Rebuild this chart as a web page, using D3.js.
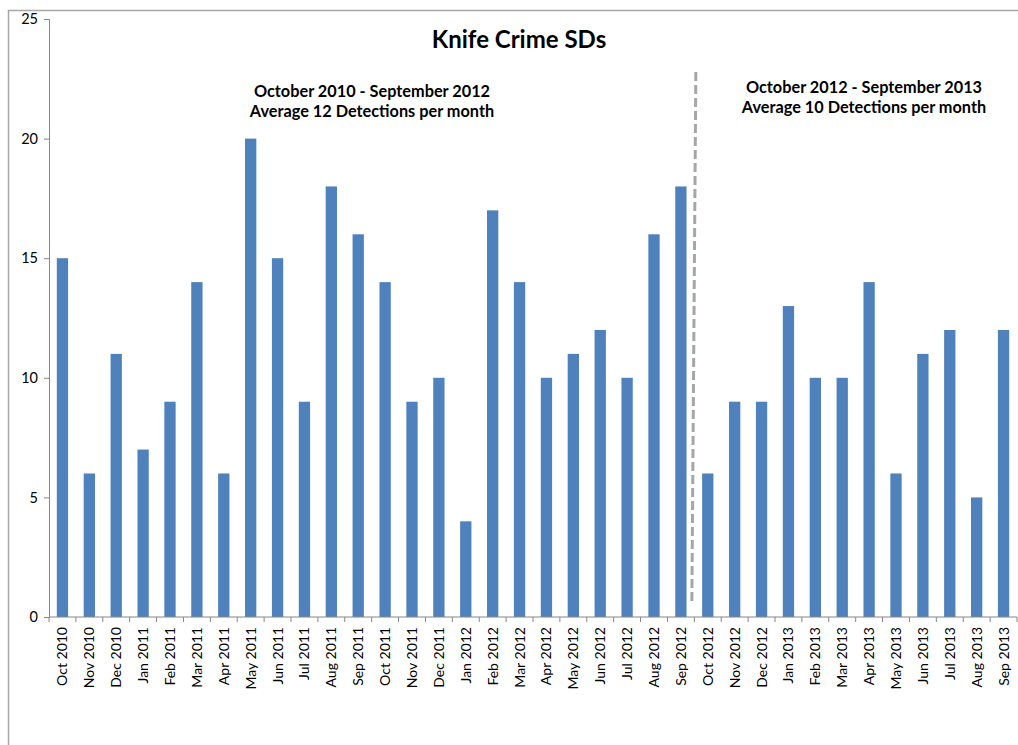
<!DOCTYPE html>
<html>
<head>
<meta charset="utf-8">
<script src="https://cdn.jsdelivr.net/npm/d3@7"></script>
<style>
	body { margin: 0; background: #fff; }
	text { font-family: Lato, "Open Sans", sans-serif; fill: #000; }
</style>
</head>
<body>
<div id="chart"></div>
<script>
const months = ["Oct 2010", "Nov 2010", "Dec 2010", "Jan 2011", "Feb 2011", "Mar 2011", "Apr 2011", "May 2011",
	"Jun 2011", "Jul 2011", "Aug 2011", "Sep 2011", "Oct 2011", "Nov 2011", "Dec 2011", "Jan 2012",
	"Feb 2012", "Mar 2012", "Apr 2012", "May 2012", "Jun 2012", "Jul 2012", "Aug 2012", "Sep 2012",
	"Oct 2012", "Nov 2012", "Dec 2012", "Jan 2013", "Feb 2013", "Mar 2013", "Apr 2013", "May 2013",
	"Jun 2013", "Jul 2013", "Aug 2013", "Sep 2013"]
const detections = [15, 6, 11, 7, 9, 14, 6, 20, 15, 9, 18, 16, 14, 9, 10, 4,
	17, 14, 10, 11, 12, 10, 16, 18, 6, 9, 9, 13, 10, 10, 14, 6, 11, 12, 5, 12]
const yTicks = [0, 5, 10, 15, 20, 25]
const splitMonth = "Oct 2012"
const periodNotes = [
	["October 2010 - September 2012", "Average 12 Detections per month"],
	["October 2012 - September 2013", "Average 10 Detections per month"]
]

drawchart()

function drawchart() {
	const W = 1018, H = 745
	const left = 49, right = 1017, top = 19, bottom = 617

	const svg = d3.select("#chart")
		.append("svg")
		.attr("width", W)
		.attr("height", H)

	// outer frame (only top and left visible in the picture)
	svg.append("path")
		.attr("d", `M8.5,${H} V10.5 H${W}`)
		.attr("fill", "none")
		.attr("stroke", "#a6a6a6")
		.attr("stroke-width", 1.5)

	const x = d3.scaleBand()
		.domain(months)
		.range([left, right])
		.paddingInner(0.58)
		.paddingOuter(0.29)

	const y = d3.scaleLinear()
		.domain([0, 25])
		.range([bottom, top])

	const data = months.map((m, i) => ({ month: m, value: detections[i] }))

	svg.append("g")
		.selectAll("rect")
		.data(data)
		.join("rect")
		.attr("x", d => x(d.month))
		.attr("y", d => y(d.value))
		.attr("width", x.bandwidth())
		.attr("height", d => y(0) - y(d.value))
		.attr("fill", "#4f81bd")

	// y axis
	const yAxis = svg.append("g")
		.attr("class", "y-axis")
		.attr("transform", `translate(${left},0)`)
		.call(d3.axisLeft(y).tickValues(yTicks).tickSize(5).tickPadding(6))
	yAxis.selectAll("text").style("font-size", "14.5px").attr("fill", "#000")

	// x axis with ticks between categories
	const step = x.step()
	const xAxis = svg.append("g")
		.attr("class", "x-axis")
		.attr("transform", `translate(0,${bottom})`)
	xAxis.append("line")
		.attr("x1", left).attr("x2", right)
		.attr("stroke", "#868686")
	xAxis.selectAll(".tk")
		.data(d3.range(months.length + 1))
		.join("line")
		.attr("class", "tk")
		.attr("x1", i => left + i * step)
		.attr("x2", i => left + i * step)
		.attr("y1", 0).attr("y2", 5)
		.attr("stroke", "#868686")
	xAxis.selectAll(".lbl")
		.data(months)
		.join("text")
		.attr("class", "lbl")
		.attr("transform", d => `translate(${x(d) + x.bandwidth() / 2 + 5},10) rotate(-90)`)
		.attr("text-anchor", "end")
		.style("font-size", "14px")
		.text(d => d)

	yAxis.select(".domain").attr("stroke", "#868686")
	yAxis.selectAll(".tick line").attr("stroke", "#868686")

	// title
	svg.append("text")
		.attr("x", 519)
		.attr("y", 48)
		.attr("text-anchor", "middle")
		.style("font-size", "24px")
		.style("font-weight", "bold")
		.text("Knife Crime SDs")

	// divider between the two periods
	const sx = x(splitMonth) - (step - x.bandwidth()) / 2
	svg.append("line")
		.attr("x1", sx + 1.5).attr("y1", 72)
		.attr("x2", sx - 2.5).attr("y2", 605)
		.attr("stroke", "#a6a6a6")
		.attr("stroke-width", 3)
		.attr("stroke-dasharray", "9,4")

	// period notes
	const notePos = [[372, 97], [864, 93]]
	periodNotes.forEach((lines, k) => {
		const t = svg.append("text")
			.attr("text-anchor", "middle")
			.style("font-size", "16.3px")
			.style("font-weight", "bold")
		lines.forEach((s, j) => {
			t.append("tspan")
				.attr("x", notePos[k][0])
				.attr("y", notePos[k][1] + j * 20)
				.text(s)
		})
	})
}
</script>
</body>
</html>
